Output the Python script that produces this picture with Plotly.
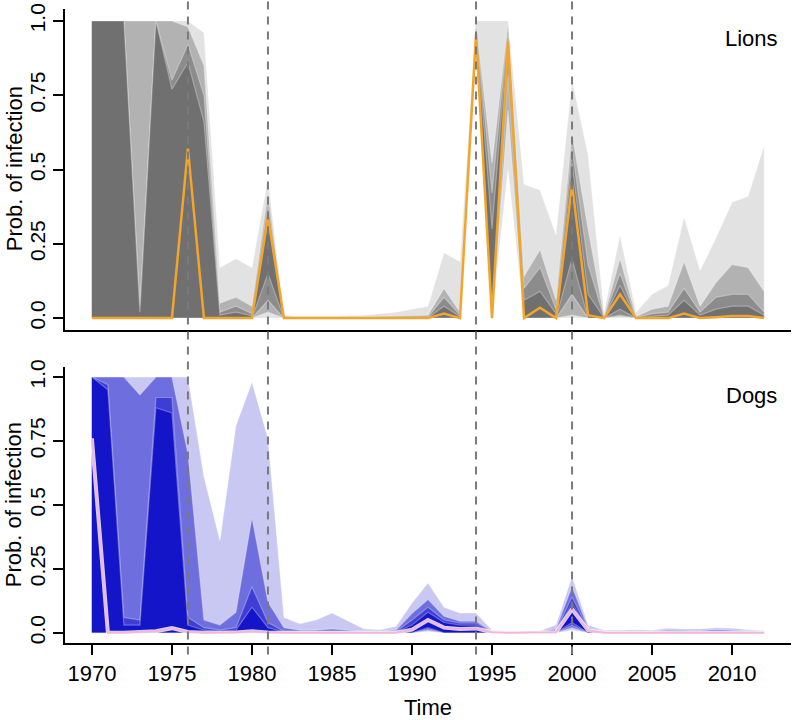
import plotly.graph_objects as go

years = list(range(1970, 2013))

# ---------------- Lions ----------------
lion_median = [0, 0, 0, 0, 0, 0, 0.57, 0, 0, 0, 0, 0.34, 0, 0, 0, 0, 0, 0, 0, 0, 0, 0,
               0.015, 0, 0.955, 0, 0.93, 0, 0.035, 0, 0.45, 0.01, 0, 0.08, 0, 0, 0, 0.015,
               0, 0.003, 0.007, 0.007, 0]
lion_hi1 = [1.0, 1.0, 1.0, 1.0, 1.0, 1.0, 1.0, 0.96, 0.17, 0.2, 0.17, 0.47, 0.01, 0.005, 0.005,
            0.005, 0.008, 0.01, 0.015, 0.02, 0.03, 0.04, 0.22, 0.19, 1.0, 1.0, 1.0, 0.45, 0.43,
            0.28, 0.80, 0.55, 0.02, 0.28, 0.02, 0.08, 0.11, 0.34, 0.16, 0.27, 0.39, 0.41, 0.58]
lion_lo1 = [0, 0, 0, 0, 0, 0, 0, 0, 0, 0, 0, 0, 0, 0, 0, 0, 0, 0, 0, 0, 0, 0, 0, 0,
            0.88, 0, 0.5, 0, 0, 0, 0, 0, 0, 0, 0, 0, 0, 0, 0, 0, 0, 0, 0]
lion_hi2 = [1.0, 1.0, 1.0, 1.0, 1.0, 1.0, 0.98, 0.85, 0.05, 0.07, 0.04, 0.42, 0.005, 0.002, 0.002,
            0.002, 0.003, 0.004, 0.005, 0.006, 0.008, 0.01, 0.1, 0.02, 0.99, 0.52, 0.99, 0.14, 0.23,
            0.06, 0.62, 0.3, 0.005, 0.2, 0.005, 0.03, 0.04, 0.19, 0.04, 0.12, 0.18, 0.17, 0.09]
lion_lo2 = [0, 0, 0, 0, 0, 0, 0, 0, 0, 0, 0, 0.02, 0, 0, 0, 0, 0, 0, 0, 0, 0, 0, 0, 0,
            0.9, 0, 0.7, 0, 0, 0, 0.01, 0, 0, 0.005, 0, 0, 0, 0, 0, 0, 0, 0, 0]
lion_hi3 = [1.0, 1.0, 1.0, 0.04, 1.0, 0.8, 0.92, 0.75, 0.02, 0.04, 0.015, 0.38, 0.002, 0.001, 0.001,
            0.001, 0.001, 0.001, 0.001, 0.001, 0.002, 0.003, 0.07, 0.01, 0.98, 0.42, 0.97, 0.1, 0.17,
            0.03, 0.57, 0.18, 0.002, 0.15, 0.002, 0.015, 0.02, 0.1, 0.02, 0.07, 0.08, 0.08, 0.02]
lion_lo3 = [0, 0, 0, 0, 0, 0, 0, 0, 0, 0, 0, 0.06, 0, 0, 0, 0, 0, 0, 0, 0, 0, 0, 0, 0,
            0.92, 0, 0.82, 0, 0, 0, 0.08, 0, 0, 0.01, 0, 0, 0, 0, 0, 0, 0, 0, 0]
lion_hi4 = [1.0, 1.0, 1.0, 0.02, 1.0, 0.77, 0.86, 0.66, 0.01, 0.02, 0.008, 0.34, 0, 0, 0,
            0, 0, 0, 0, 0, 0.001, 0.001, 0.04, 0.005, 0.97, 0.3, 0.95, 0.06, 0.09,
            0.015, 0.52, 0.08, 0.001, 0.11, 0.001, 0.005, 0.01, 0.06, 0.01, 0.03, 0.04, 0.04, 0.01]
lion_lo4 = [0, 0, 0, 0, 0, 0, 0, 0, 0, 0, 0, 0.15, 0, 0, 0, 0, 0, 0, 0, 0, 0, 0, 0, 0,
            0.94, 0, 0.88, 0, 0, 0, 0.2, 0, 0, 0.03, 0, 0, 0, 0, 0, 0, 0, 0, 0]

# ---------------- Dogs ----------------
dog_median = [0.76, 0, 0, 0.002, 0.006, 0.018, 0.003, 0, 0, 0.001, 0.006, 0.001, 0, 0, 0, 0, 0,
              0, 0, 0, 0.012, 0.05, 0.02, 0.015, 0.017, 0.002, 0, 0, 0, 0.002, 0.092, 0.01,
              0, 0, 0, 0, 0, 0, 0, 0, 0, 0, 0]
dog_hi1 = [1.0, 1.0, 1.0, 1.0, 1.0, 1.0, 1.0, 0.61, 0.36, 0.81, 0.98, 0.76, 0.06, 0.035, 0.05,
           0.077, 0.045, 0.015, 0.012, 0.025, 0.116, 0.195, 0.10, 0.077, 0.077, 0.01, 0.006, 0.006,
           0.008, 0.03, 0.22, 0.03, 0.01, 0.01, 0.012, 0.01, 0.018, 0.015, 0.015, 0.02, 0.018,
           0.012, 0.008]
dog_lo1 = [0] * 21 + [0.005] + [0] * 8 + [0.01] + [0] * 12
dog_hi2 = [1.0, 1.0, 1.0, 0.93, 1.0, 1.0, 0.7, 0.05, 0.03, 0.08, 0.45, 0.12, 0.02, 0.01, 0.01,
           0.015, 0.01, 0.005, 0.005, 0.01, 0.075, 0.13, 0.065, 0.045, 0.045, 0.005, 0.003, 0.003,
           0.004, 0.015, 0.18, 0.02, 0.005, 0.005, 0.006, 0.005, 0.01, 0.008, 0.008, 0.012, 0.01,
           0.006, 0.004]
dog_lo2 = [0] * 21 + [0.01] + [0] * 8 + [0.02] + [0] * 12
dog_hi3 = [1.0, 0.97, 0.06, 0.05, 0.92, 0.92, 0.06, 0.02, 0.01, 0.02, 0.18, 0.04, 0.005, 0.004,
           0.004, 0.004, 0.004, 0.003, 0.003, 0.004, 0.05, 0.1, 0.05, 0.038, 0.038, 0.004, 0.002,
           0.002, 0.002, 0.008, 0.14, 0.015, 0.003, 0.003, 0.003, 0.003, 0.004, 0.004, 0.004,
           0.005, 0.004, 0.003, 0.002]
dog_lo3 = [0] * 21 + [0.015] + [0] * 8 + [0.03] + [0] * 12
dog_hi4 = [1.0, 0.95, 0.03, 0.03, 0.88, 0.86, 0.03, 0.01, 0.005, 0.01, 0.1, 0.02, 0.003, 0.002,
           0.002, 0.003, 0.002, 0.001, 0.001, 0.003, 0.03, 0.08, 0.04, 0.03, 0.03, 0.003, 0.001,
           0.001, 0.001, 0.005, 0.115, 0.012, 0.002, 0.002, 0.002, 0.002, 0.002, 0.002, 0.002,
           0.002, 0.002, 0.001, 0.001]
dog_lo4 = [0] * 21 + [0.02] + [0] * 8 + [0.04] + [0] * 12

event_years = [1976, 1981, 1994, 2000]

y_tickvals = [0, 0.25, 0.5, 0.75, 1.0]
y_ticktext = ["0.0", "0.25", "0.5", "0.75", "1.0"]
x_tickvals = [1970, 1975, 1980, 1985, 1990, 1995, 2000, 2005, 2010]

lion_colors = ["rgb(226,226,226)", "rgb(178,178,178)", "rgb(140,140,140)", "rgb(112,112,112)"]
dog_colors = ["rgb(200,200,242)", "rgb(110,110,222)", "rgb(62,62,212)", "rgb(20,20,200)"]

FONT = "Liberation Sans, Arial, Helvetica, sans-serif"

fig = go.Figure()


def add_bands(his, los, colors, xa, ya):
    for hi, lo, col in zip(his, los, colors):
        fig.add_trace(go.Scatter(
            x=years + years[::-1], y=hi + lo[::-1],
            fill="toself", fillcolor=col, mode="lines",
            line=dict(color="rgba(255,255,255,0.3)", width=1.2),
            xaxis=xa, yaxis=ya, showlegend=False, hoverinfo="skip"))


add_bands([lion_hi1, lion_hi2, lion_hi3, lion_hi4], [lion_lo1, lion_lo2, lion_lo3, lion_lo4],
          lion_colors, "x", "y")
fig.add_trace(go.Scatter(x=years, y=lion_median, mode="lines",
                         line=dict(color="#f2a52a", width=2.5),
                         xaxis="x", yaxis="y", showlegend=False))

add_bands([dog_hi1, dog_hi2, dog_hi3, dog_hi4], [dog_lo1, dog_lo2, dog_lo3, dog_lo4],
          dog_colors, "x2", "y2")
fig.add_trace(go.Scatter(x=years, y=dog_median, mode="lines",
                         line=dict(color="rgba(255,255,255,0.8)", width=4),
                         xaxis="x2", yaxis="y2", showlegend=False))
fig.add_trace(go.Scatter(x=years, y=dog_median, mode="lines",
                         line=dict(color="#f5b5d5", width=2),
                         xaxis="x2", yaxis="y2", showlegend=False))

for ev in event_years:
    fig.add_shape(type="line", xref="x", yref="paper", x0=ev, x1=ev, y0=-0.018, y1=1.015,
                  line=dict(color="#7a7a7a", width=2, dash="8px,7px"), layer="above")

xr = [1968.32, 2013.68]
yr = [-0.04, 1.04]
axis_common = dict(showline=True, linecolor="black", linewidth=2, showgrid=False,
                   zeroline=False, mirror=False, automargin=False)

fig.update_layout(
    width=792, height=720,
    margin=dict(l=65, r=1, t=9, b=77, autoexpand=False),
    paper_bgcolor="white", plot_bgcolor="white",
    font=dict(family=FONT, color="black"),
    xaxis=dict(domain=[0, 1], range=xr, anchor="y", showticklabels=False, ticks="",
               **axis_common),
    yaxis=dict(domain=[0.4937, 1], range=yr, anchor="x", tickvals=y_tickvals,
               ticktext=y_ticktext, ticks="outside", ticklen=10, tickwidth=2,
               tickcolor="black", tickangle=-90, tickfont=dict(size=21), **axis_common),
    xaxis2=dict(domain=[0, 1], range=xr, anchor="y2", tickvals=x_tickvals,
                ticks="outside", ticklen=10, tickwidth=2, tickcolor="black",
                tickfont=dict(size=22), **axis_common),
    yaxis2=dict(domain=[0, 0.4356], range=yr, anchor="x2", tickvals=y_tickvals,
                ticktext=y_ticktext, ticks="outside", ticklen=10, tickwidth=2,
                tickcolor="black", tickangle=-90, tickfont=dict(size=21), **axis_common),
    annotations=[
        dict(text="Lions", x=0.946, y=0.954, xref="paper", yref="paper", showarrow=False,
             xanchor="center", yanchor="middle", font=dict(size=22)),
        dict(text="Dogs", x=0.946, y=0.391, xref="paper", yref="paper", showarrow=False,
             xanchor="center", yanchor="middle", font=dict(size=22)),
        dict(text="Prob. of infection", x=-0.0700, y=0.7476, xref="paper", yref="paper",
             showarrow=False, textangle=-90, xanchor="center", yanchor="middle",
             font=dict(size=22)),
        dict(text="Prob. of infection", x=-0.0700, y=0.2177, xref="paper", yref="paper",
             showarrow=False, textangle=-90, xanchor="center", yanchor="middle",
             font=dict(size=22)),
        dict(text="Time", x=0.5, y=-0.1025, xref="paper", yref="paper", showarrow=False,
             xanchor="center", yanchor="middle", font=dict(size=22)),
    ],
)

# remove the browser's default 8px page margin so the figure fills the window exactly
fig.write_html("out.html", config={"displayModeBar": False},
               post_script="document.body.style.margin='0px';")
